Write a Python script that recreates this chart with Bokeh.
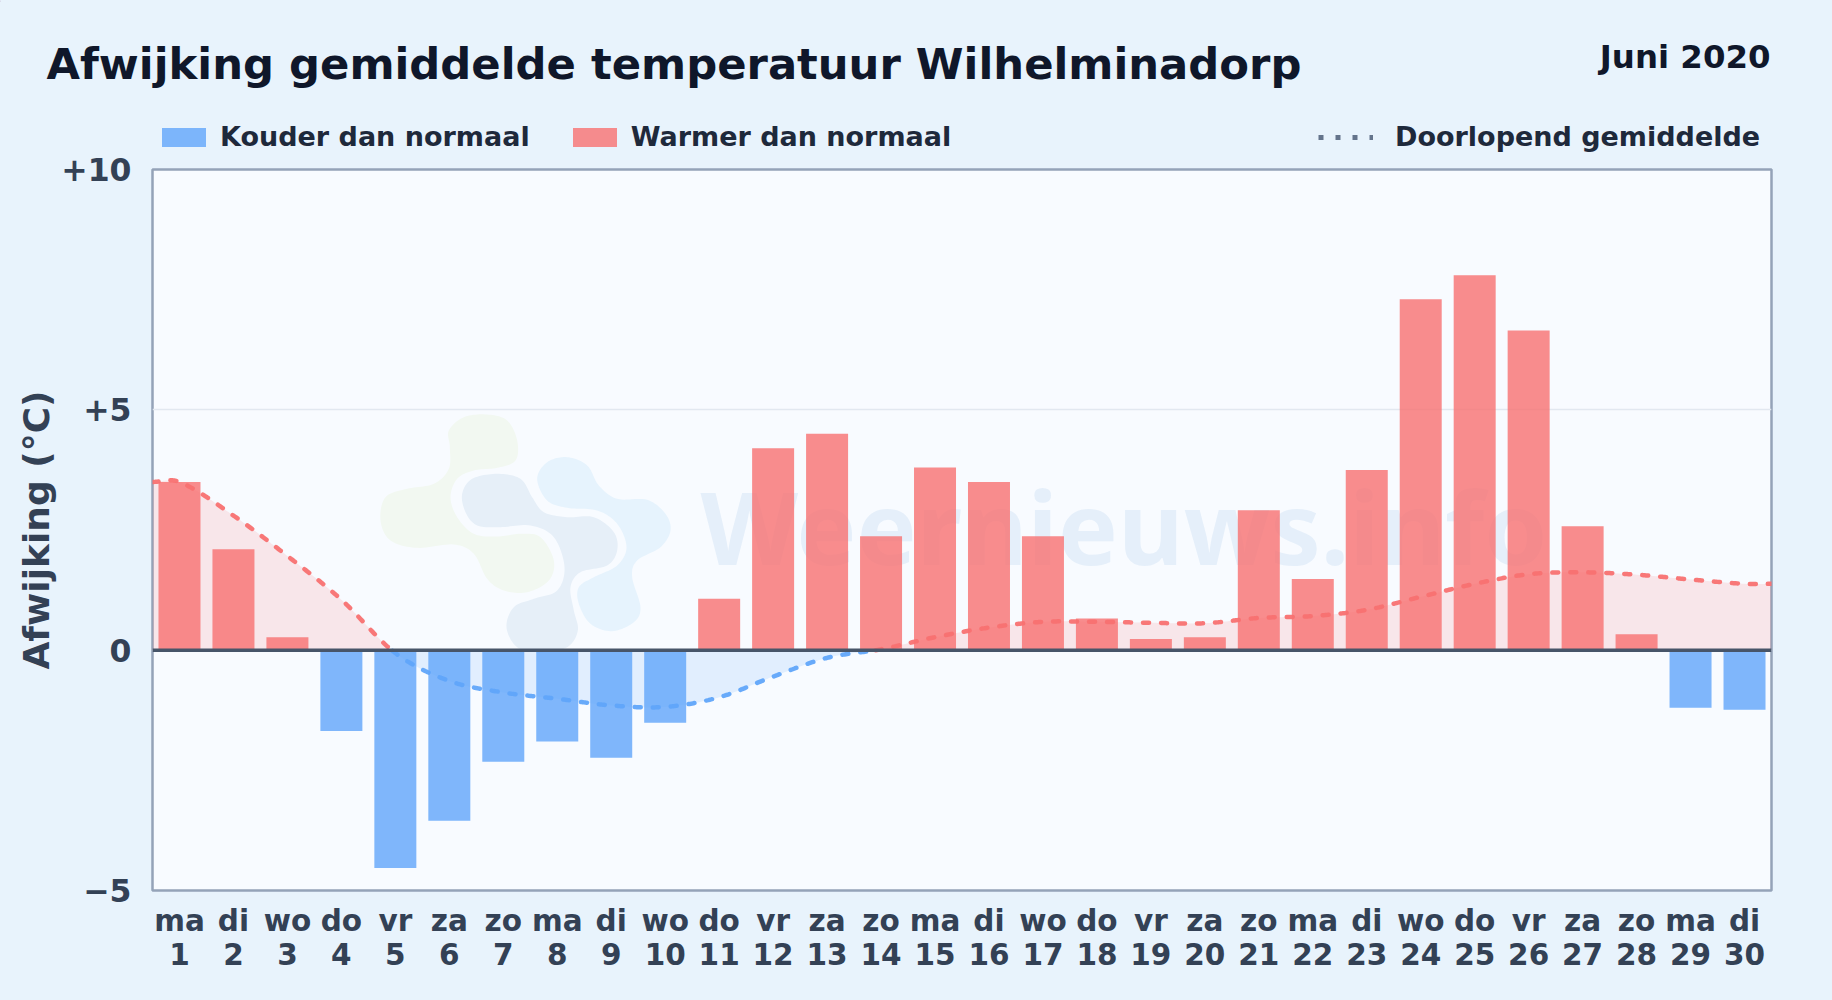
import numpy as np
from bokeh.core.properties import value
from bokeh.embed import file_html
from bokeh.layouts import column
from bokeh.models import ColumnDataSource, FixedTicker, Legend, LegendItem, Range1d, Span
from bokeh.plotting import figure
from bokeh.resources import INLINE

# ---------------- data ----------------
weekdays = ["ma","di","wo","do","vr","za","zo","ma","di","wo","do","vr","za","zo","ma","di","wo","do","vr","za","zo","ma","di","wo","do","vr","za","zo","ma","di"]
days = list(range(1, 31))
deviation = [3.5,2.1,0.27,-1.68,-4.53,-3.55,-2.32,-1.9,-2.24,-1.51,1.07,4.2,4.5,2.37,3.8,3.5,2.37,0.66,0.23,0.27,2.91,1.48,3.75,7.3,7.8,6.65,2.58,0.33,-1.2,-1.24]
running_mean = [3.5,2.8,1.96,1.05,-0.06,-0.64,-0.88,-1.01,-1.15,-1.18,-0.98,-0.55,-0.16,0.02,0.27,0.47,0.59,0.59,0.57,0.56,0.67,0.71,0.84,1.11,1.38,1.58,1.62,1.57,1.47,1.38]
y_ticks = [-5, 0, 5, 10]
y_tick_labels = {-5: "\u22125", 0: "0", 5: "+5", 10: "+10"}

TITLE = "Afwijking gemiddelde temperatuur Wilhelminadorp"
PERIOD = "Juni 2020"
FONT = "DejaVu Sans"
BG = "#e8f3fc"
PLOT_BG = "#f8fbff"
RED = "#f87171"
BLUE = "#60a5fa"
TEXT_DARK = "#0f172a"
TEXT_MID = "#1e293b"
TEXT_AXIS = "#334155"

W, H = 1832, 1000
HEAD_H = 152
LEFT, FRAME_TOP, FW, FH = 152, 169, 1619, 721
TOP = FRAME_TOP - HEAD_H
BODY_H = H - HEAD_H

# ---------------- header strip: data coordinates equal page pixels ----------------
head = figure(width=W, height=HEAD_H, output_backend="svg", toolbar_location=None,
              x_range=Range1d(0, W), y_range=Range1d(HEAD_H, 0),
              x_axis_location=None, y_axis_location=None, frame_align=False,
              min_border=0, background_fill_color=BG, border_fill_color=BG)
head.grid.visible = False
head.outline_line_color = None
head.text([46], [63.7], text=[TITLE], text_font=value(FONT), text_font_style="bold", text_font_size="43.3px",
          text_color=TEXT_DARK, text_baseline="alphabetic")
head.text([1770], [56.5], text=[PERIOD], text_font=value(FONT), text_font_style="bold", text_font_size="32.4px",
          text_color=TEXT_DARK, text_baseline="alphabetic", text_align="right")
# legend keys: one sample each, parked left of the visible strip
key_cold = head.vbar([-100], top=[1], bottom=[0], width=1, fill_color=BLUE, fill_alpha=0.8, line_color=None)
key_warm = head.vbar([-100], top=[1], bottom=[0], width=1, fill_color=RED, fill_alpha=0.8, line_color=None)
key_mean = head.line([-100, -90], [1, 1], line_color="#64748b", line_width=5, line_dash="5 12")
common = dict(orientation="horizontal", background_fill_alpha=0, border_line_color=None, padding=0, margin=0,
              label_text_font=FONT, label_text_font_style="bold", label_text_font_size="27px",
              label_text_color=TEXT_MID, label_standoff=9, glyph_height=24, glyph_width=55, spacing=37)
leg1 = Legend(items=[LegendItem(label="Kouder dan normaal", renderers=[key_cold]),
                     LegendItem(label="Warmer dan normaal", renderers=[key_warm])],
              location=(156, 0), **common)
leg2 = Legend(items=[LegendItem(label="Doorlopend gemiddelde", renderers=[key_mean])],
              location=(1318, 0), **common)
leg2.label_standoff = 22
head.add_layout(leg1, "center")
head.add_layout(leg2, "center")

# ---------------- chart ----------------
p = figure(width=W, height=BODY_H, output_backend="svg", toolbar_location=None,
           x_range=Range1d(0.5, 30.5), y_range=Range1d(-5, 10),
           frame_width=FW, frame_height=FH, frame_align=False,
           min_border_left=LEFT, min_border_top=TOP,
           min_border_right=W - LEFT - FW, min_border_bottom=BODY_H - TOP - FH,
           background_fill_color=PLOT_BG, border_fill_color=BG)
p.outline_line_color = "#94a3b8"
p.outline_line_width = 2.5
p.xgrid.visible = False
p.ygrid.ticker = FixedTicker(ticks=y_ticks)
p.ygrid.grid_line_color = "#e2e8f0"
p.ygrid.grid_line_width = 1.7

for ax in (p.xaxis[0], p.yaxis[0]):
    ax.axis_line_color = None
    ax.major_tick_line_color = None
    ax.minor_tick_line_color = None
    ax.major_tick_out = 0
    ax.major_tick_in = 0
    ax.minor_tick_out = 0
    ax.major_label_text_font = FONT
    ax.major_label_text_font_style = "bold"
    ax.major_label_text_color = TEXT_AXIS

p.yaxis[0].major_label_text_font_size = "31.5px"
p.yaxis[0].ticker = FixedTicker(ticks=y_ticks)
p.yaxis[0].major_label_overrides = y_tick_labels
p.yaxis[0].major_label_standoff = 21
p.yaxis[0].axis_label = "Afwijking (\u00b0C)"
p.yaxis[0].axis_label_text_font = FONT
p.yaxis[0].axis_label_text_font_style = "bold"
p.yaxis[0].axis_label_text_font_size = "36px"
p.yaxis[0].axis_label_text_color = TEXT_AXIS
p.yaxis[0].axis_label_standoff = 1

p.xaxis[0].major_label_text_font_size = "29.5px"
p.xaxis[0].major_label_text_line_height = 1.0
p.xaxis[0].ticker = FixedTicker(ticks=days)
p.xaxis[0].major_label_overrides = {d: f"{w}\n{d}" for d, w in zip(days, weekdays)}
p.xaxis[0].major_label_standoff = 13


def data_x(page_x):
    return 0.5 + (page_x - LEFT) / FW * 30


def data_y(page_y):
    return 10 - (page_y - FRAME_TOP) / FH * 15


def smooth_closed(pts, n=12):
    """closed Catmull-Rom outline"""
    pts = np.asarray(pts, float)
    out = []
    m = len(pts)
    for i in range(m):
        p0, p1, p2, p3 = pts[(i - 1) % m], pts[i], pts[(i + 1) % m], pts[(i + 2) % m]
        for t in np.linspace(0, 1, n, endpoint=False):
            out.append(0.5 * ((2 * p1) + (p2 - p0) * t + (2 * p0 - 5 * p1 + 4 * p2 - p3) * t ** 2
                              + (3 * p1 - p0 - 3 * p2 + p3) * t ** 3))
    return np.array(out)


def smooth_curve(xs, ys, n=40, k=0.5):
    """cubic Hermite curve through the read values, only for drawing"""
    xs, ys = np.asarray(xs, float), np.asarray(ys, float)
    m = np.zeros_like(ys)
    m[1:-1] = (ys[2:] - ys[:-2]) / (xs[2:] - xs[:-2]) * (2 * k)
    out_x, out_y = [], []
    for i in range(len(xs) - 1):
        h = xs[i + 1] - xs[i]
        t = np.linspace(0, 1, n, endpoint=False)
        out_x.append(xs[i] + h * t)
        out_y.append((2 * t ** 3 - 3 * t ** 2 + 1) * ys[i] + (t ** 3 - 2 * t ** 2 + t) * h * m[i]
                     + (-2 * t ** 3 + 3 * t ** 2) * ys[i + 1] + (t ** 3 - t ** 2) * h * m[i + 1])
    out_x.append(xs[-1:])
    out_y.append(ys[-1:])
    return np.concatenate(out_x), np.concatenate(out_y)


# ---- watermark (decoration behind the data) ----
LOGO_GREEN = [(325,120),(370,80),(440,72),(500,90),(530,150),(525,210),(470,232),(400,240),(350,265),(330,320),(350,380),(400,430),(470,438),(540,430),(600,440),(640,510),(625,570),(560,605),(490,600),(440,565),(400,490),(340,462),(230,472),(150,450),(120,390),(135,320),(200,295),(280,280),(325,235),(328,170)]
LOGO_NAVY = [(365,310),(395,265),(470,250),(540,265),(575,320),(610,365),(680,380),(760,380),(820,425),(830,480),(800,525),(720,545),(690,590),(700,660),(712,720),(680,770),(600,785),(530,770),(498,710),(520,650),(580,625),(650,600),(672,530),(640,440),(570,405),(480,410),(410,405),(375,365)]
LOGO_LIGHT = [(590,265),(620,215),(680,200),(740,225),(775,285),(830,325),(920,328),(975,370),(990,420),(960,470),(890,510),(875,560),(900,650),(880,695),(815,722),(750,700),(715,640),(715,590),(760,560),(830,525),(858,470),(830,400),(770,360),(680,352),(620,330)]
for shape, col in ((LOGO_GREEN, "#f2f8f1"), (LOGO_NAVY, "#e6eff8"), (LOGO_LIGHT, "#e6f3fd")):
    o = smooth_closed(shape)
    p.patch(data_x(340 + o[:, 0] / 3), data_y(390 + o[:, 1] / 3), fill_color=col, line_color=None, level="underlay")

p.text([data_x(700)], [data_y(525)], text=["Weernieuws.info"], text_font=value("Noto Sans"),
       text_font_style="bold", text_font_size="101px", text_color="#448dcd", text_alpha=0.1,
       text_baseline="alphabetic", level="underlay")

# ---- running mean fill ----
cx, cy = smooth_curve([0.5] + days + [30.5], [running_mean[0]] + running_mean + [running_mean[-1]])
pos = np.where(cy >= 0, cy, 0.0)
neg = np.where(cy <= 0, cy, 0.0)
p.varea(cx, y1=np.zeros_like(cx), y2=pos, fill_color=RED, fill_alpha=0.15)
p.varea(cx, y1=np.zeros_like(cx), y2=neg, fill_color=BLUE, fill_alpha=0.15)

# ---- bars ----
cold_src = ColumnDataSource(dict(x=[d for d, v in zip(days, deviation) if v < 0], top=[v for v in deviation if v < 0]))
warm_src = ColumnDataSource(dict(x=[d for d, v in zip(days, deviation) if v >= 0], top=[v for v in deviation if v >= 0]))
bar_w = 42 / (FW / 30)
p.vbar(x="x", top="top", bottom=0, width=bar_w, source=cold_src, fill_color=BLUE, fill_alpha=0.8, line_color=None)
p.vbar(x="x", top="top", bottom=0, width=bar_w, source=warm_src, fill_color=RED, fill_alpha=0.8, line_color=None)

# ---- running mean line ----
DASH = "6 12"
p.line(cx, np.where(cy >= 0, cy, np.nan), line_color=RED, line_width=4.5, line_dash=DASH, line_cap="round", line_alpha=0.95)
p.line(cx, np.where(cy <= 0, cy, np.nan), line_color=BLUE, line_width=4.5, line_dash=DASH, line_cap="round", line_alpha=0.95)

p.add_layout(Span(location=0, dimension="width", line_color="#475569", line_width=3.5))

html = file_html(column(head, p, spacing=0), INLINE)
html = html.replace("<head>", f"<head><style>html,body{{background:{BG};}}</style>", 1)
open("out.html", "w").write(html)
